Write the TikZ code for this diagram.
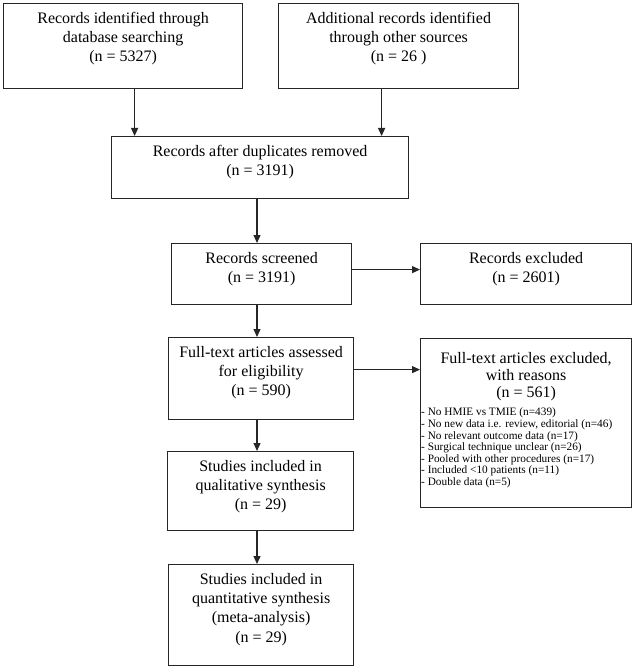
\documentclass[tikz,border=0pt]{standalone}
\usepackage{fontspec}
\setmainfont{Liberation Serif}
\usetikzlibrary{arrows.meta,positioning}

% text block of a box: width, height, lines
\newcommand{\flowtext}[3]{\parbox[c][#2][t]{#1}{\centering\vspace*{8.5pt}#3}}

\begin{document}
\begin{tikzpicture}[x=1pt,y=-1pt]
    \tikzstyle{flowbox}=[draw=black!85, line width=1.2pt, inner sep=0pt, anchor=north west, font=\fontsize{16}{19.3}\selectfont]
    \tikzstyle{reasons}=[inner sep=0pt, anchor=north west, align=left, font=\fontsize{11.3}{11.6}\selectfont]
    \tikzstyle{flowarrow}=[draw=black!85, line width=1.2pt, -{Triangle[length=8pt,width=7pt]}]
    \useasboundingbox (0,0) rectangle (633,666);
    % identification
    \node[flowbox] (db) at (3,3) {\flowtext{239pt}{85pt}{Records identified through\\database searching\\(n = 5327)}};
    \node[flowbox] (other) at (278,3) {\flowtext{240pt}{85pt}{Additional records identified\\through other sources\\(n = 26 )}};
    \node[flowbox] (dup) at (111,136) {\flowtext{297pt}{62pt}{Records after duplicates removed\\(n = 3191)}};
    % screening
    \node[flowbox] (screen) at (171,243) {\flowtext{180pt}{61pt}{Records screened\\(n = 3191)}};
    \node[flowbox] (excl) at (420,243) {\flowtext{211pt}{61pt}{Records excluded\\(n = 2601)}};
    % eligibility
    \node[flowbox] (full) at (168,337) {\flowtext{185pt}{82pt}{Full-text articles assessed\\for eligibility\\(n = 590)}};
    \node[flowbox] (ftexcl) at (420,338) {\parbox[c][169pt][t]{211pt}{\centering\vspace*{14pt}%
        \fontsize{16}{17}\selectfont Full-text articles excluded,\\with reasons\\(n = 561)}};
    \node[reasons] (why) at ([xshift=1pt,yshift=-69.8pt]ftexcl.north west) {%
        - No HMIE vs TMIE (n=439)\\
        - No new data i.e. review, editorial (n=46)\\
        - No relevant outcome data (n=17)\\
        - Surgical technique unclear (n=26)\\
        - Pooled with other procedures (n=17)\\
        - Included \textless10 patients (n=11)\\
        - Double data (n=5)};
    % included
    \node[flowbox] (qual) at (167,451) {\flowtext{186pt}{79pt}{Studies included in\\qualitative synthesis\\(n = 29)}};
    \node[flowbox] (quant) at (168,564) {\flowtext{185pt}{101pt}{Studies included in\\quantitative synthesis\\(meta-analysis)\\(n = 29)}};
    \coordinate (spine) at (257,0);
    \draw[flowarrow] ([xshift=11.5pt]db.south) -- ([xshift=11.5pt]db.south |- dup.north);
    \draw[flowarrow] ([xshift=-17pt]other.south) -- ([xshift=-17pt]other.south |- dup.north);
    \draw[flowarrow] (dup.south -| spine) -- (screen.north -| spine);
    \draw[flowarrow] ([yshift=4.5pt]screen.east) -- ([yshift=4.5pt]screen.east -| excl.west);
    \draw[flowarrow] (screen.south -| spine) -- (full.north -| spine);
    \draw[flowarrow] ([yshift=9pt]full.east) -- ([yshift=9pt]full.east -| ftexcl.west);
    \draw[flowarrow] (full.south -| spine) -- (qual.north -| spine);
    \draw[flowarrow] (qual.south -| spine) -- (quant.north -| spine);
\end{tikzpicture}
\end{document}
